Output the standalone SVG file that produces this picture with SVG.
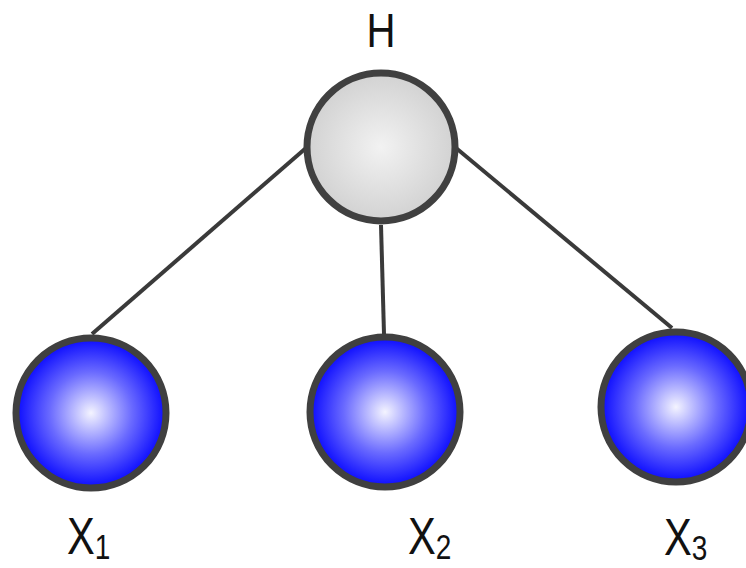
<svg xmlns="http://www.w3.org/2000/svg" width="746" height="568" viewBox="0 0 746 568">
<style>
.edge{stroke:#3a3a3a;stroke-width:4;fill:none}
.node{stroke:#404040;stroke-width:7}
.lbl{font-family:"Liberation Sans","Open Sans",sans-serif;fill:#111}
</style>
<defs>
<radialGradient id="blue" cx="50%" cy="50%" r="50%">
<stop offset="0" stop-color="#f4f4ff"/>
<stop offset="0.55" stop-color="#6a6aff"/>
<stop offset="1" stop-color="#0a0aff"/>
</radialGradient>
<radialGradient id="gray" cx="50%" cy="50%" r="50%">
<stop offset="0" stop-color="#f2f2f2"/>
<stop offset="1" stop-color="#d2d2d2"/>
</radialGradient>
</defs>
<rect width="746" height="568" fill="#fff"/>
<g id="connectors">
<line class="edge" x1="306" y1="148" x2="92" y2="334"/>
<line class="edge" x1="381" y1="225" x2="384" y2="334"/>
<line class="edge" x1="456" y1="148" x2="672" y2="328"/>
</g>
<g id="H">
<circle class="node" cx="381" cy="147" r="74" fill="url(#gray)"/>
<text class="lbl" x="381" y="47" font-size="49" text-anchor="middle" textLength="29" lengthAdjust="spacingAndGlyphs">H</text>
</g>
<g id="X1">
<circle class="node" cx="91" cy="413" r="75" fill="url(#blue)"/>
<text class="lbl" transform="translate(67,554) scale(0.8,1)" font-size="52">X<tspan font-size="35" dy="5">1</tspan></text>
</g>
<g id="X2">
<circle class="node" cx="385" cy="412" r="75" fill="url(#blue)"/>
<text class="lbl" transform="translate(408,554) scale(0.8,1)" font-size="52">X<tspan font-size="35" dy="5">2</tspan></text>
</g>
<g id="X3">
<circle class="node" cx="676" cy="407" r="75" fill="url(#blue)"/>
<text class="lbl" transform="translate(664,555) scale(0.8,1)" font-size="52">X<tspan font-size="35" dy="5">3</tspan></text>
</g>
</svg>
